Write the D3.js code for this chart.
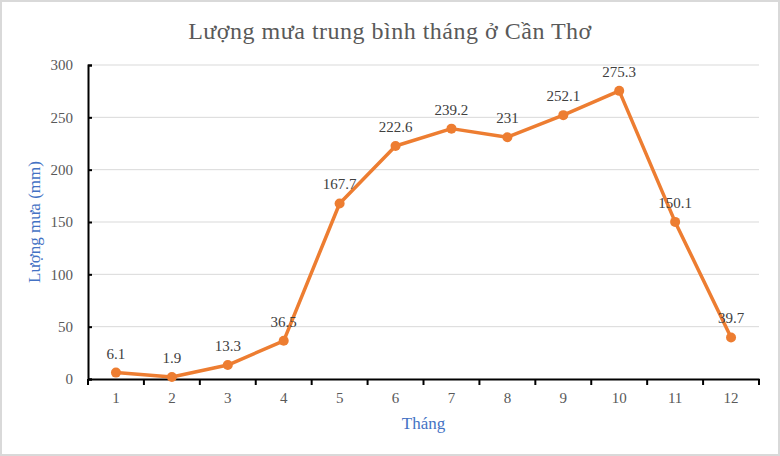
<!DOCTYPE html>
<html>
<head>
<meta charset="utf-8">
<script src="https://cdn.jsdelivr.net/npm/d3@7"></script>
<style>
  body { margin: 0; background: #fff; }
  text { font-family: "Liberation Serif", "Times New Roman", serif; }
</style>
</head>
<body>
<div id="chart"></div>
<script>
// Dữ liệu
const thang = ["1", "2", "3", "4", "5", "6", "7", "8", "9", "10", "11", "12"];
const luongMua = [6.1, 1.9, 13.3, 36.5, 167.7, 222.6, 239.2, 231, 252.1, 275.3, 150.1, 39.7];
const nhanMua = ["6.1", "1.9", "13.3", "36.5", "167.7", "222.6", "239.2", "231", "252.1", "275.3", "150.1", "39.7"];
const yTicks = [0, 50, 100, 150, 200, 250, 300];

const width = 780, height = 456;
const margin = { top: 65, right: 21, bottom: 77, left: 88 };
const w = width - margin.left - margin.right;
const h = height - margin.top - margin.bottom;

const svg = d3.select('#chart')
  .append('svg')
  .attr('width', width)
  .attr('height', height);

// Khung ngoài
svg.append('rect')
  .attr('x', 1).attr('y', 1)
  .attr('width', width - 2).attr('height', height - 2)
  .attr('fill', '#fff')
  .attr('stroke', '#d9d9d9')
  .attr('stroke-width', 2);

// Tiêu đề
svg.append('text')
  .attr('x', 390).attr('y', 39)
  .attr('text-anchor', 'middle')
  .attr('font-size', 24)
  .attr('fill', '#595959')
  .attr('letter-spacing', 0.5)
  .text('Lượng mưa trung bình tháng ở Cần Thơ');

const g = svg.append('g')
  .attr('transform', `translate(${margin.left}, ${margin.top})`);

const x = d3.scaleBand().domain(thang).range([0, w]);
const y = d3.scaleLinear().domain([0, 300]).range([h, 0]);

// Lưới ngang
g.append('g')
  .selectAll('line')
  .data(yTicks.filter(d => d > 0))
  .join('line')
  .attr('x1', 0).attr('x2', w)
  .attr('y1', d => y(d)).attr('y2', d => y(d))
  .attr('stroke', '#d9d9d9')
  .attr('stroke-width', 1);

// Trục Y
const ejeY = g.append('g')
  .call(d3.axisRight(y).tickValues(yTicks).tickSize(4).tickFormat(''));
ejeY.select('.domain').attr('stroke', '#000').attr('stroke-width', 2);
ejeY.selectAll('.tick line').attr('stroke', '#000').attr('stroke-width', 2);

g.append('g')
  .selectAll('text')
  .data(yTicks)
  .join('text')
  .attr('x', -15)
  .attr('y', d => y(d))
  .attr('dy', '0.35em')
  .attr('text-anchor', 'end')
  .attr('font-size', 15)
  .attr('fill', '#595959')
  .text(d => d);

// Trục X
const ejeX = g.append('g')
  .attr('transform', `translate(0, ${h})`)
  .call(d3.axisBottom(x).tickSize(0).tickPadding(13));
ejeX.select('.domain').attr('stroke', '#000').attr('stroke-width', 2);
ejeX.selectAll('.tick text')
  .attr('font-size', 15)
  .attr('fill', '#595959');

// Vạch chia giữa các tháng
g.append('g')
  .attr('transform', `translate(0, ${h})`)
  .selectAll('line')
  .data(thang.concat(['']))
  .join('line')
  .attr('x1', (d, i) => i * x.step())
  .attr('x2', (d, i) => i * x.step())
  .attr('y1', 0).attr('y2', 6)
  .attr('stroke', '#000')
  .attr('stroke-width', 2);

// Tên trục
svg.append('text')
  .attr('transform', `translate(40, ${margin.top + h / 2}) rotate(-90)`)
  .attr('text-anchor', 'middle')
  .attr('font-size', 17)
  .attr('fill', '#4472c4')
  .text('Lượng mưa (mm)');

svg.append('text')
  .attr('x', margin.left + w / 2)
  .attr('y', 429)
  .attr('text-anchor', 'middle')
  .attr('font-size', 17)
  .attr('fill', '#4472c4')
  .text('Tháng');

// Đường
const cx = (d, i) => x(thang[i]) + x.bandwidth() / 2;
const line = d3.line()
  .x(cx)
  .y(d => y(d));

g.append('path')
  .datum(luongMua)
  .attr('d', line)
  .attr('fill', 'none')
  .attr('stroke', '#ed7d31')
  .attr('stroke-width', 3.5)
  .attr('stroke-linejoin', 'round');

g.selectAll('circle')
  .data(luongMua)
  .join('circle')
  .attr('cx', cx)
  .attr('cy', d => y(d))
  .attr('r', 5)
  .attr('fill', '#ed7d31');

// Nhãn dữ liệu
g.append('g')
  .selectAll('text')
  .data(luongMua)
  .join('text')
  .attr('x', cx)
  .attr('y', d => y(d) - 14)
  .attr('text-anchor', 'middle')
  .attr('font-size', 15)
  .attr('fill', '#404040')
  .text((d, i) => nhanMua[i]);
</script>
</body>
</html>
